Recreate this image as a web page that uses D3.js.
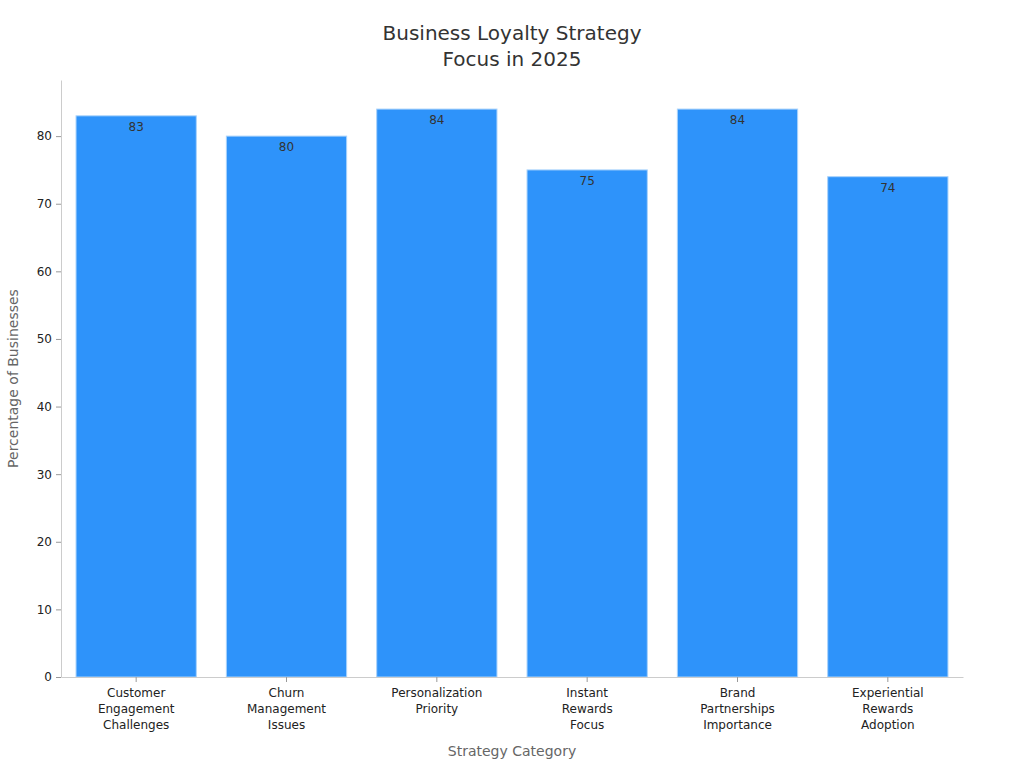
<!DOCTYPE html>
<html>
<head>
<meta charset="utf-8">
<script src="https://cdn.jsdelivr.net/npm/d3@7"></script>
<style>
  body { margin: 0; padding: 0; background: #fff; }
  text { font-family: "DejaVu Sans", sans-serif; }
</style>
</head>
<body>
<script>
const categories = [
  ["Customer", "Engagement", "Challenges"],
  ["Churn", "Management", "Issues"],
  ["Personalization", "Priority"],
  ["Instant", "Rewards", "Focus"],
  ["Brand", "Partnerships", "Importance"],
  ["Experiential", "Rewards", "Adoption"]
];
const values = [83, 80, 84, 75, 84, 74];
const yTicks = [0, 10, 20, 30, 40, 50, 60, 70, 80];

const width = 1024, height = 768;
const margin = { top: 80, right: 61, bottom: 91, left: 61 };

const svg = d3.select("body").append("svg")
  .attr("width", width)
  .attr("height", height);

const keys = categories.map((c, i) => i);

const x = d3.scaleBand()
  .domain(keys)
  .range([margin.left, width - margin.right])
  .paddingInner(0.2)
  .paddingOuter(0.1);

const y = d3.scaleLinear()
  .domain([0, 88.3])
  .range([height - margin.bottom, margin.top]);

// title
svg.append("text")
  .attr("x", 512).attr("y", 40)
  .attr("text-anchor", "middle")
  .attr("font-size", 20).attr("fill", "#333")
  .text("Business Loyalty Strategy");
svg.append("text")
  .attr("x", 512).attr("y", 66)
  .attr("text-anchor", "middle")
  .attr("font-size", 20).attr("fill", "#333")
  .text("Focus in 2025");

// bars
svg.append("g")
  .selectAll("rect")
  .data(values)
  .join("rect")
    .attr("x", (d, i) => x(i))
    .attr("y", d => y(d))
    .attr("width", x.bandwidth())
    .attr("height", d => y(0) - y(d))
    .attr("fill", "#2e93fa")
    .attr("stroke", "#a9d2fb")
    .attr("stroke-width", 1);

// value labels
svg.append("g")
  .selectAll("text")
  .data(values)
  .join("text")
    .attr("x", (d, i) => x(i) + x.bandwidth() / 2)
    .attr("y", d => y(d) + 15)
    .attr("text-anchor", "middle")
    .attr("font-size", 12)
    .attr("fill", "#333")
    .text(d => d);

// y axis
const yAxis = svg.append("g")
  .attr("transform", `translate(${margin.left},0)`)
  .call(d3.axisLeft(y).tickValues(yTicks).tickSize(5).tickPadding(4).tickSizeOuter(0));
yAxis.select(".domain").attr("stroke", "#ccc");
yAxis.selectAll(".tick line").attr("stroke", "#999");
yAxis.selectAll(".tick text").attr("font-size", 12).attr("fill", "#222")
  .style("font-family", "DejaVu Sans, sans-serif");

// x axis
const xAxis = svg.append("g")
  .attr("transform", `translate(0,${height - margin.bottom})`)
  .call(d3.axisBottom(x).tickSize(5).tickSizeOuter(0).tickFormat(""));
xAxis.select(".domain").attr("stroke", "#ccc");
xAxis.selectAll(".tick line").attr("stroke", "#999");
xAxis.selectAll(".tick").each(function(d) {
  const t = d3.select(this).append("text")
    .attr("text-anchor", "middle")
    .attr("font-size", 12)
    .attr("fill", "#222")
    .style("font-family", "DejaVu Sans, sans-serif");
  categories[d].forEach((line, j) => {
    t.append("tspan").attr("x", 0).attr("y", 20 + j * 16).text(line);
  });
});

// axis titles
svg.append("text")
  .attr("transform", `translate(18,${(margin.top + height - margin.bottom) / 2}) rotate(-90)`)
  .attr("text-anchor", "middle")
  .attr("font-size", 14).attr("fill", "#666")
  .text("Percentage of Businesses");

svg.append("text")
  .attr("x", (margin.left + width - margin.right) / 2)
  .attr("y", 756)
  .attr("text-anchor", "middle")
  .attr("font-size", 14).attr("fill", "#666")
  .text("Strategy Category");
</script>
</body>
</html>
